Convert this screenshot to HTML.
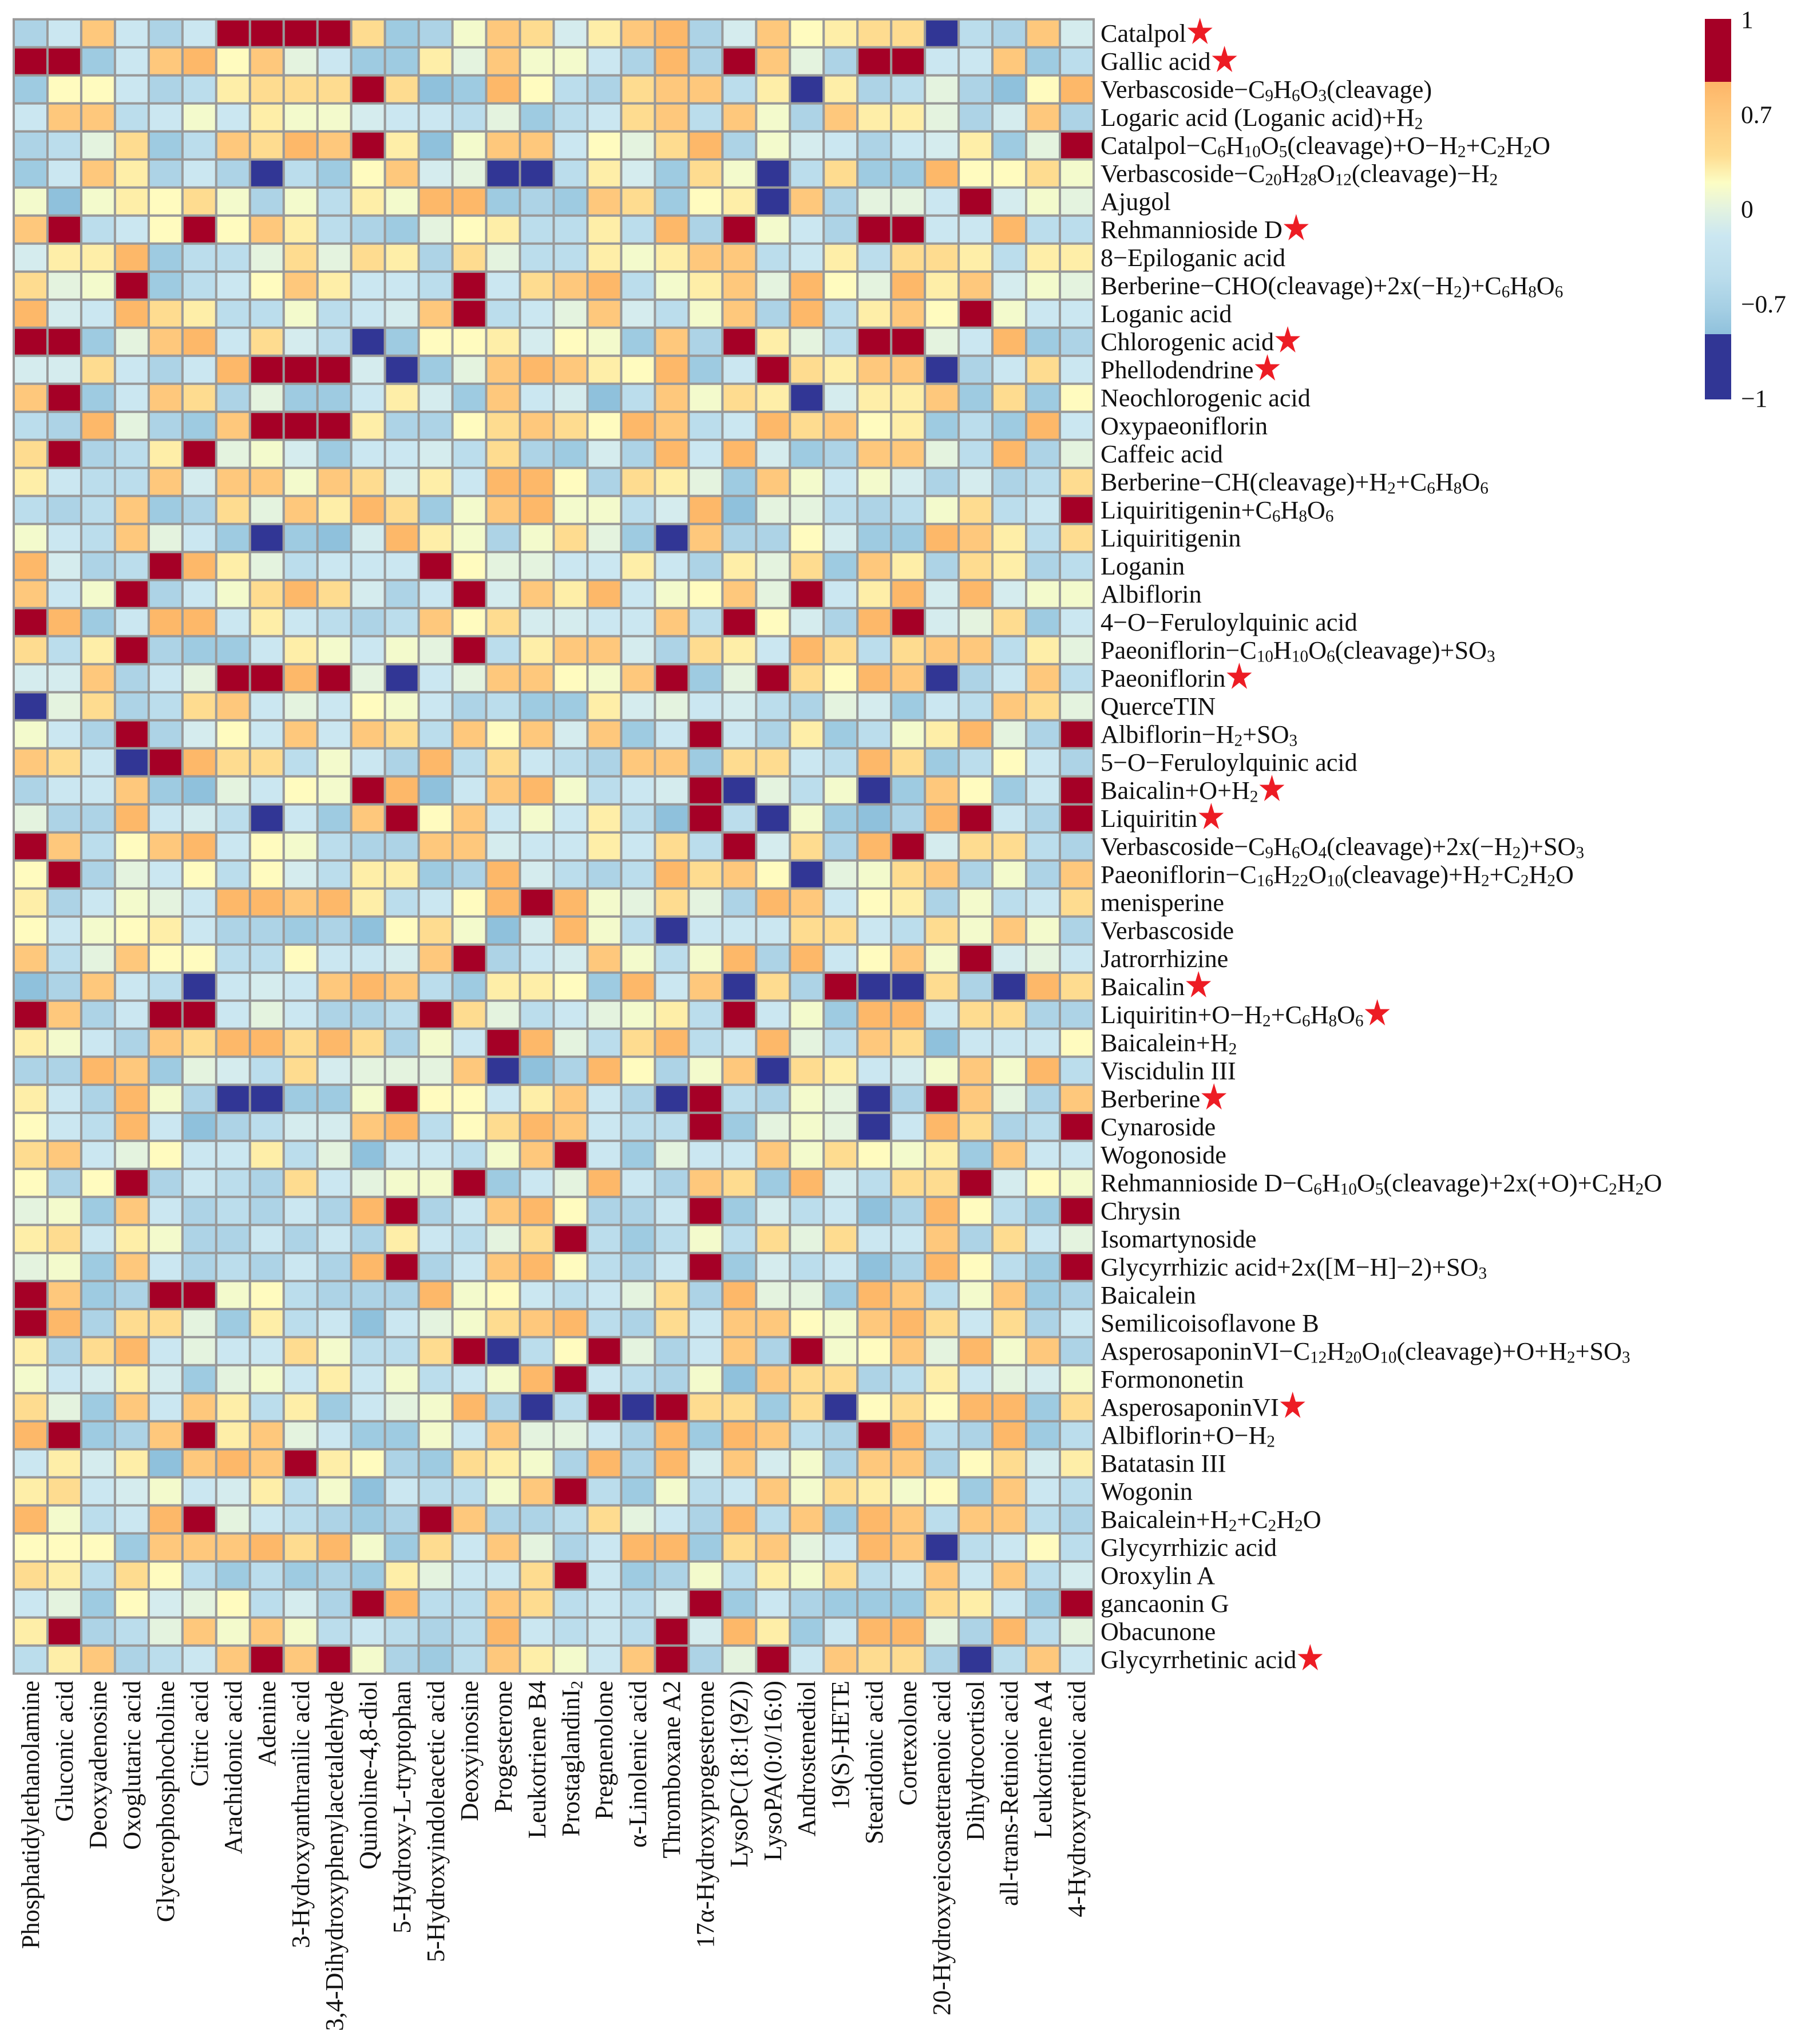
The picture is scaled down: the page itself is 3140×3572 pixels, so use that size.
<!DOCTYPE html>
<html lang="en">
<head>
<meta charset="utf-8">
<title>Correlation heatmap</title>
<style>
html,body{margin:0;padding:0;background:#fff;}
#page{position:relative;width:3140px;height:3572px;overflow:hidden;background:#fff;font-family:"Liberation Serif",serif;color:#111;}
#chart{position:absolute;left:0;top:0;}
.row-label{position:absolute;left:1923px;height:49px;line-height:49px;font-size:44.2px;white-space:nowrap;}
.col-label{position:absolute;top:2937px;height:59px;line-height:59px;font-size:44.2px;white-space:nowrap;transform-origin:0 0;transform:rotate(-90deg) translateX(-100%);}
sub{font-size:.66em;vertical-align:-.18em;line-height:0;}
.star{display:inline-block;width:44px;height:46px;margin:-30px 0 0 2px;vertical-align:-4.3px;background:#ED1C24;clip-path:polygon(50% 0%,62% 38%,100% 38%,69% 62%,81% 100%,50% 76%,19% 100%,31% 62%,0% 38%,38% 38%);}
.legend-label{position:absolute;left:3042px;font-size:43.5px;line-height:50px;height:50px;white-space:nowrap;}
</style>
</head>
<body>
<div id="page">
<svg id="chart" width="3140" height="3572" xmlns="http://www.w3.org/2000/svg">
<defs>
<linearGradient id="legendGradient" x1="0" y1="0" x2="0" y2="1">
<stop offset="0" stop-color="#FDB567"/>
<stop offset="0.13" stop-color="#FEC87C"/>
<stop offset="0.29" stop-color="#FEDC90"/>
<stop offset="0.40" stop-color="#FCFDC4"/>
<stop offset="0.50" stop-color="#E4F3DF"/>
<stop offset="0.61" stop-color="#CBE7F1"/>
<stop offset="0.77" stop-color="#BBDDEC"/>
<stop offset="0.90" stop-color="#A5CFE4"/>
<stop offset="1" stop-color="#8FC1DC"/>
</linearGradient>
</defs>
<g id="cells"></g>
<g id="legend">
<rect x="2979" y="33" width="46" height="110" fill="#A50026"/>
<rect x="2979" y="143" width="46" height="441" fill="url(#legendGradient)"/>
<rect x="2979" y="584" width="46" height="114" fill="#313695"/>
</g>
</svg>
</div>
<script>
const columnLabels=["Phosphatidylethanolamine","Gluconic acid","Deoxyadenosine","Oxoglutaric acid","Glycerophosphocholine","Citric acid","Arachidonic acid","Adenine","3-Hydroxyanthranilic acid","3,4-Dihydroxyphenylacetaldehyde","Quinoline-4,8-diol","5-Hydroxy-L-tryptophan","5-Hydroxyindoleacetic acid","Deoxyinosine","Progesterone","Leukotriene B4","ProstaglandinI<sub>2</sub>","Pregnenolone","α-Linolenic acid","Thromboxane A2","17α-Hydroxyprogesterone","LysoPC(18:1(9Z))","LysoPA(0:0/16:0)","Androstenediol","19(S)-HETE","Stearidonic acid","Cortexolone","20-Hydroxyeicosatetraenoic acid","Dihydrocortisol","all-trans-Retinoic acid","Leukotriene A4","4-Hydroxyretinoic acid"];
const rowLabels=["Catalpol","Gallic acid","Verbascoside−C<sub>9</sub>H<sub>6</sub>O<sub>3</sub>(cleavage)","Logaric acid (Loganic acid)+H<sub>2</sub>","Catalpol−C<sub>6</sub>H<sub>10</sub>O<sub>5</sub>(cleavage)+O−H<sub>2</sub>+C<sub>2</sub>H<sub>2</sub>O","Verbascoside−C<sub>20</sub>H<sub>28</sub>O<sub>12</sub>(cleavage)−H<sub>2</sub>","Ajugol","Rehmannioside D","8−Epiloganic acid","Berberine−CHO(cleavage)+2x(−H<sub>2</sub>)+C<sub>6</sub>H<sub>8</sub>O<sub>6</sub>","Loganic acid","Chlorogenic acid","Phellodendrine","Neochlorogenic acid","Oxypaeoniflorin","Caffeic acid","Berberine−CH(cleavage)+H<sub>2</sub>+C<sub>6</sub>H<sub>8</sub>O<sub>6</sub>","Liquiritigenin+C<sub>6</sub>H<sub>8</sub>O<sub>6</sub>","Liquiritigenin","Loganin","Albiflorin","4−O−Feruloylquinic acid","Paeoniflorin−C<sub>10</sub>H<sub>10</sub>O<sub>6</sub>(cleavage)+SO<sub>3</sub>","Paeoniflorin","QuerceTIN","Albiflorin−H<sub>2</sub>+SO<sub>3</sub>","5−O−Feruloylquinic acid","Baicalin+O+H<sub>2</sub>","Liquiritin","Verbascoside−C<sub>9</sub>H<sub>6</sub>O<sub>4</sub>(cleavage)+2x(−H<sub>2</sub>)+SO<sub>3</sub>","Paeoniflorin−C<sub>16</sub>H<sub>22</sub>O<sub>10</sub>(cleavage)+H<sub>2</sub>+C<sub>2</sub>H<sub>2</sub>O","menisperine","Verbascoside","Jatrorrhizine","Baicalin","Liquiritin+O−H<sub>2</sub>+C<sub>6</sub>H<sub>8</sub>O<sub>6</sub>","Baicalein+H<sub>2</sub>","Viscidulin III","Berberine","Cynaroside","Wogonoside","Rehmannioside D−C<sub>6</sub>H<sub>10</sub>O<sub>5</sub>(cleavage)+2x(+O)+C<sub>2</sub>H<sub>2</sub>O","Chrysin","Isomartynoside","Glycyrrhizic acid+2x([M−H]−2)+SO<sub>3</sub>","Baicalein","Semilicoisoflavone B","AsperosaponinVI−C<sub>12</sub>H<sub>20</sub>O<sub>10</sub>(cleavage)+O+H<sub>2</sub>+SO<sub>3</sub>","Formononetin","AsperosaponinVI","Albiflorin+O−H<sub>2</sub>","Batatasin III","Wogonin","Baicalein+H<sub>2</sub>+C<sub>2</sub>H<sub>2</sub>O","Glycyrrhizic acid","Oroxylin A","gancaonin G","Obacunone","Glycyrrhetinic acid"];
const starredRowNumbers=[1,2,8,12,13,24,28,29,35,36,39,50,59];
const legendTickLabels=["1","0.7","0","−0.7","−1"];

const row01=[-0.6,-0.2,0.7,-0.2,-0.6,-0.2,1,1,1,1,0.55,-0.7,-0.6,0.1,0.7,0.55,-0.1,0.4,0.7,0.8,-0.6,-0.1,0.7,0.2,0.4,0.55,0.55,-1,-0.4,-0.6,0.7,-0.1];
const row02=[1,1,-0.7,-0.2,0.7,0.8,0.2,0.7,0,-0.2,-0.7,-0.7,0.4,0,0.7,0.1,0.1,-0.2,-0.6,0.8,-0.6,1,0.7,0,-0.6,1,1,-0.2,-0.2,0.7,-0.7,-0.4];
const row03=[-0.7,0.2,0.2,-0.2,-0.6,-0.4,0.4,0.55,0.55,0.55,1,0.55,-0.8,-0.7,0.8,0.2,-0.4,-0.6,0.55,0.7,0.7,-0.4,0.4,-1,0.4,-0.6,-0.4,0,-0.6,-0.8,0.2,0.8];
const row04=[-0.2,0.7,0.7,-0.4,-0.2,0.1,-0.2,0.4,0.1,0.1,-0.1,-0.2,-0.2,-0.4,0,-0.7,-0.4,-0.2,0.55,0.7,-0.4,0.7,0.1,-0.6,0.7,0.4,0.4,0,-0.6,-0.1,0.7,-0.6];
const row05=[-0.6,-0.4,0,0.55,-0.7,-0.4,0.7,0.55,0.8,0.7,1,0.4,-0.8,0.1,0.7,0.7,-0.2,0.2,0,0.55,0.8,-0.6,0.1,-0.1,-0.2,-0.6,-0.2,-0.1,0.4,-0.7,0,1];
const row06=[-0.7,-0.2,0.7,0.4,-0.6,-0.2,-0.6,-1,-0.4,-0.7,0.2,0.7,-0.1,0,-1,-1,-0.4,0.4,-0.1,-0.7,0.55,0.1,-1,-0.4,0.55,-0.7,-0.7,0.8,0.2,0.2,0.55,0.1];
const row07=[0.1,-0.8,0.1,0.4,0.2,0.55,0.1,-0.6,0.1,-0.4,0.4,0.1,0.8,0.8,-0.7,-0.6,-0.7,0.7,0.55,-0.7,0.2,0.4,-1,0.7,-0.6,0,0,-0.2,1,-0.1,0.1,0];
const row08=[0.7,1,-0.4,-0.2,0.2,1,0.2,0.7,0.4,-0.4,-0.6,-0.7,0,0.2,0.4,-0.4,-0.4,0.4,-0.4,0.8,-0.6,1,0.1,-0.2,-0.6,1,1,-0.2,-0.2,0.8,-0.4,-0.4];
const row09=[-0.1,0.4,0.4,0.8,-0.7,-0.4,-0.4,0,0.55,0,0.55,0.4,-0.6,0.55,0,-0.4,-0.4,0.4,0.1,0.4,0.7,0.7,-0.4,-0.2,0.4,-0.4,0.55,0.55,0.4,-0.4,0.4,0.4];
const row10=[0.55,0,0.1,1,-0.7,-0.4,-0.2,0.2,0.7,0.4,-0.2,-0.2,-0.4,1,-0.2,0.55,0.7,0.8,-0.4,0.1,0.4,0.7,0,0.8,0.2,0,0.8,0.4,0.7,-0.1,0.1,0];
const row11=[0.8,-0.1,-0.2,0.8,0.55,0.4,-0.4,-0.4,0.1,-0.4,-0.2,-0.1,0.7,1,-0.4,-0.2,0,0.7,-0.1,-0.4,0.1,0.7,-0.6,0.8,-0.4,0.4,0.7,0.2,1,0.1,-0.2,-0.2];
const row12=[1,1,-0.7,0,0.7,0.8,-0.2,0.55,-0.1,-0.4,-1,-0.7,0.2,0.2,0.4,-0.1,0.2,0.1,-0.7,0.7,-0.6,1,0.4,0,-0.4,1,1,0,-0.2,0.8,-0.7,-0.6];
const row13=[-0.1,-0.1,0.55,-0.2,-0.6,-0.2,0.8,1,1,1,-0.1,-1,-0.7,0,0.7,0.8,0.7,0.4,0.2,0.8,-0.7,-0.2,1,0.55,0.4,0.7,0.7,-1,-0.6,-0.2,0.55,-0.2];
const row14=[0.7,1,-0.7,-0.2,0.7,0.55,-0.6,0,-0.7,-0.7,-0.2,0.4,-0.1,-0.7,0.7,-0.2,-0.1,-0.8,-0.4,0.7,0.1,0.55,0.4,-1,-0.1,0.4,0.4,0.7,-0.7,0.55,-0.7,0.2];
const row15=[-0.4,-0.6,0.8,0,-0.6,-0.7,0.7,1,1,1,0.4,-0.6,-0.6,0.2,0.55,0.7,0.55,0.2,0.8,0.7,-0.4,-0.2,0.8,0.55,0.7,0.2,0.4,-0.7,-0.4,-0.7,0.8,-0.2];
const row16=[0.55,1,-0.6,-0.4,0.4,1,0,0.1,-0.1,-0.7,-0.2,-0.2,-0.1,-0.4,0.55,-0.6,-0.7,-0.1,-0.6,0.8,-0.2,0.8,-0.1,-0.7,-0.6,0.7,0.7,0,-0.4,0.8,-0.6,0];
const row17=[0.4,-0.2,-0.4,-0.4,0.7,-0.1,0.7,0.7,0.1,0.7,0.55,-0.1,0.4,-0.2,0.8,0.8,0.2,-0.6,0.55,0.4,0,-0.7,0.7,0.1,-0.2,0.1,-0.1,-0.6,-0.1,-0.6,-0.4,0.55];
const row18=[-0.4,-0.6,-0.4,0.7,-0.7,-0.6,0.55,0,0.7,0.4,0.8,0.55,-0.7,0.1,0.7,0.8,0.1,0.1,-0.4,-0.1,0.8,-0.8,0,0,-0.4,-0.6,-0.4,0.1,0.55,-0.4,-0.2,1];
const row19=[0.1,-0.2,-0.4,0.7,0,-0.2,-0.7,-1,-0.7,-0.8,-0.1,0.8,0.4,0.1,-0.6,0.1,0.55,0,-0.7,-1,0.7,-0.6,-0.6,0.2,-0.1,-0.7,-0.7,0.8,0.7,0.4,-0.4,0.55];
const row20=[0.8,-0.1,-0.6,-0.4,1,0.8,0.4,0,-0.4,-0.2,-0.2,-0.2,1,0.2,0,0,-0.2,-0.2,0.4,-0.2,-0.6,0.4,0,0.55,-0.7,0.7,0.4,-0.6,0.55,0.4,-0.6,-0.4];
const row21=[0.7,-0.2,0.1,1,-0.6,-0.2,0.1,0.55,0.8,0.55,-0.1,-0.6,-0.2,1,-0.1,0.7,0.4,0.8,-0.2,0.1,0.2,0.7,0,1,-0.2,0.4,0.8,-0.1,0.8,-0.1,0.1,0.1];
const row22=[1,0.8,-0.7,-0.2,0.8,0.8,-0.2,0.4,-0.2,-0.4,-0.6,-0.4,0.7,0.2,0.55,-0.1,-0.1,-0.2,-0.2,0.7,-0.4,1,0.2,-0.1,-0.6,0.8,1,-0.1,0,0.55,-0.7,-0.2];
const row23=[0.55,-0.4,0.4,1,-0.6,-0.7,-0.7,-0.2,0.4,0.1,-0.2,0.1,0,1,-0.4,0.4,0.7,0.7,-0.1,-0.6,0.55,0.4,-0.2,0.8,0.55,-0.4,0.55,0.7,0.7,-0.4,0.4,0];
const row24=[-0.1,-0.1,0.7,-0.6,-0.2,0,1,1,0.8,1,0,-1,-0.2,0,0.7,0.7,0.2,0.1,0.7,1,-0.7,0,1,0.55,0.2,0.8,0.7,-1,-0.6,-0.2,0.7,-0.4];
const row25=[-1,0,0.55,-0.6,-0.4,0.55,0.7,-0.2,0,-0.2,0.2,0.1,-0.2,-0.6,-0.4,-0.7,-0.7,0.4,-0.1,0,-0.2,-0.1,-0.4,-0.6,0,-0.1,-0.7,-0.2,-0.4,0.7,0.55,0];
const row26=[0.1,-0.2,-0.6,1,-0.6,-0.1,0.2,-0.2,0.7,-0.2,0.7,0.55,-0.4,0.7,0.2,0.7,-0.1,0.7,-0.7,-0.2,1,-0.2,-0.6,0.4,-0.7,-0.4,0.1,0.4,0.8,0,-0.6,1];
const row27=[0.7,0.55,-0.2,-1,1,0.8,0.55,0.55,-0.4,0.1,-0.2,-0.6,0.8,-0.4,0.55,-0.2,-0.4,-0.6,0.7,0.7,-0.7,0.55,0.55,-0.2,-0.4,0.8,0.55,-0.7,-0.4,0.2,-0.2,-0.6];
const row28=[-0.6,-0.2,-0.2,0.7,-0.7,-0.8,0,-0.2,0.2,0.1,1,0.8,-0.8,-0.2,0.7,0.8,0.1,-0.4,-0.2,-0.1,1,-1,0,-0.4,0.1,-1,-0.7,0.7,0.2,-0.7,-0.2,1];
const row29=[0,-0.6,-0.6,0.8,-0.2,-0.1,-0.4,-1,-0.2,-0.7,0.7,1,0.2,0.7,-0.2,0.1,-0.2,0.4,-0.4,-0.8,1,-0.4,-1,0.1,-0.7,-0.8,-0.6,0.8,1,-0.2,-0.6,1];
const row30=[1,0.7,-0.4,0.2,0.7,0.8,-0.2,0.2,0.1,-0.4,-0.6,-0.6,0.7,0.7,-0.1,-0.2,-0.2,0.4,-0.2,0.55,-0.4,1,-0.1,0.55,-0.6,0.8,1,-0.1,0.55,0.55,-0.4,-0.6];
const row31=[0.2,1,-0.6,0,-0.2,0.2,-0.4,0.2,-0.1,-0.4,0.4,0.4,-0.7,-0.6,0.8,-0.1,-0.4,-0.6,-0.4,0.8,0.55,0.7,0.2,-1,0,0.1,0.55,0.7,-0.6,0.1,-0.6,0.7];
const row32=[0.4,-0.6,-0.2,0.1,0,-0.2,0.8,0.8,0.7,0.8,0.4,-0.4,-0.2,0.2,0.8,1,0.8,0.1,0,0.55,0,-0.6,0.8,0.7,-0.2,0.2,0.4,-0.6,0.1,-0.4,-0.2,0.55];
const row33=[0.2,-0.2,0.1,0.2,0.4,-0.2,-0.6,-0.6,-0.7,-0.6,-0.8,0.2,0.55,0.1,-0.8,-0.1,0.8,0.1,-0.4,-1,-0.2,-0.2,-0.2,0.55,0.55,-0.2,-0.4,0.55,0.1,0.7,0.1,-0.6];
const row34=[0.7,-0.4,0,0.7,0.2,0.2,-0.4,-0.4,0.2,-0.2,-0.2,-0.1,0.7,1,-0.6,-0.2,-0.1,0.7,0.1,-0.4,0.1,0.8,-0.6,0.8,-0.2,0.2,0.7,0.1,1,-0.1,0,-0.2];
const row35=[-0.8,-0.6,0.7,-0.2,-0.4,-1,-0.2,-0.1,-0.2,0.7,0.8,0.7,-0.4,-0.7,0.4,0.4,0.2,-0.7,0.8,-0.2,0.7,-1,0.55,-0.6,1,-1,-1,0.55,-0.6,-1,0.8,0.55];
const row36=[1,0.7,-0.6,-0.2,1,1,-0.2,0,-0.2,-0.6,-0.6,-0.4,1,0.55,0,-0.4,-0.2,0,0.1,0.4,-0.4,1,-0.2,0.1,-0.7,0.8,0.8,-0.2,0.55,0.55,-0.6,-0.6];
const row37=[0.4,0.1,-0.2,-0.6,0.7,0.55,0.8,0.8,0.55,0.8,0.55,-0.6,0.1,-0.2,1,0.8,0,-0.4,0.55,0.8,-0.4,-0.2,0.8,0,-0.4,0.7,0.55,-0.8,-0.2,-0.2,-0.2,0.2];
const row38=[-0.6,-0.6,0.8,0.7,-0.7,0,-0.1,-0.4,0.55,-0.1,0,0,0,0.7,-1,-0.8,-0.6,0.8,0.2,-0.6,0.1,0.7,-1,0.55,0.4,-0.2,-0.1,0.1,0.7,0.1,0.8,-0.4];
const row39=[0.4,-0.2,-0.6,0.8,0.1,-0.6,-1,-1,-0.7,-0.7,0.1,1,0.2,0.2,-0.2,0.4,0.7,-0.2,-0.6,-1,1,-0.4,-0.6,0.1,0,-1,-0.6,1,0.7,0,-0.6,0.7];
const row40=[0.2,-0.2,-0.4,0.8,-0.2,-0.8,-0.6,-0.4,-0.1,-0.1,0.7,0.8,-0.4,0.2,0.55,0.8,0.7,-0.2,-0.4,-0.4,1,-0.7,0,0.1,0,-1,-0.2,0.8,0.55,-0.6,-0.4,1];
const row41=[0.55,0.7,-0.2,0,0.2,-0.2,-0.2,0.4,-0.4,0,-0.8,-0.2,-0.2,-0.4,0.1,0.7,1,-0.2,-0.7,0,-0.2,-0.2,0.7,0.1,0.55,0.2,0.1,0.4,-0.7,0.7,-0.2,-0.2];
const row42=[0.2,-0.6,0.2,1,-0.6,-0.2,-0.4,-0.6,0.55,-0.2,0,0.1,0.1,1,-0.7,-0.2,0,0.8,-0.2,-0.6,0.7,0.55,-0.7,0.8,-0.1,-0.4,0.55,0.55,1,-0.1,0.2,0.1];
const row43=[0,0.1,-0.7,0.7,-0.2,-0.6,-0.4,-0.6,-0.2,-0.6,0.8,1,-0.6,-0.2,0.7,0.8,0.2,-0.6,-0.6,-0.2,1,-0.7,-0.1,-0.4,-0.2,-0.8,-0.6,0.8,0.2,-0.4,-0.7,1];
const row44=[0.4,0.55,-0.2,0.4,0.1,-0.6,-0.6,-0.2,-0.6,-0.2,-0.6,0.4,-0.2,-0.4,0,0.55,1,-0.4,-0.7,-0.4,0.1,-0.4,0.55,0,0.55,-0.2,-0.2,0.7,-0.6,0.55,-0.2,0];
const row45=[0,0.1,-0.7,0.7,-0.2,-0.6,-0.4,-0.6,-0.2,-0.6,0.8,1,-0.6,-0.2,0.7,0.8,0.2,-0.4,-0.6,-0.2,1,-0.7,-0.1,-0.4,-0.2,-0.8,-0.6,0.8,0.2,-0.4,-0.7,1];
const row46=[1,0.7,-0.7,-0.6,1,1,0.1,0.2,-0.4,-0.6,-0.6,-0.6,0.8,0.1,0.2,-0.2,-0.4,-0.2,0,0.55,-0.6,0.8,0,0,-0.7,0.8,0.7,-0.4,0.1,0.7,-0.7,-0.6];
const row47=[1,0.8,-0.6,0.55,0.55,0,-0.7,0.4,-0.4,-0.2,-0.8,-0.2,0,0.1,0.55,0.7,0.8,-0.4,-0.6,0.55,-0.2,0.7,0.7,0.2,0.1,0.7,0.8,0.55,-0.2,0.55,-0.6,-0.2];
const row48=[0.4,-0.6,0.55,0.8,-0.2,0,-0.2,-0.2,0.55,0.1,-0.4,-0.4,0.55,1,-1,-0.4,0.2,1,0,-0.6,-0.2,0.7,-0.6,1,0.1,0.2,0.7,0,0.8,0.1,0.7,-0.6];
const row49=[0.1,-0.2,-0.1,0.4,-0.1,-0.7,0,0.1,-0.2,0.4,-0.2,0.1,-0.4,-0.2,0.1,0.8,1,-0.2,-0.4,-0.6,0.1,-0.8,0.7,0.55,0.55,-0.6,-0.4,0.4,-0.2,0,-0.1,0.1];
const row50=[0.55,0,-0.7,0.7,-0.2,0.7,0.4,-0.4,0.4,-0.7,-0.2,0,0.1,0.8,-0.6,-1,-0.4,1,-1,1,0.55,0.55,-0.7,0.55,-1,0.2,0.55,0.2,0.8,0.8,-0.7,0.55];
const row51=[0.8,1,-0.7,-0.6,0.7,1,0.4,0.7,0,-0.2,-0.7,-0.7,0.1,-0.2,0.7,0,0,-0.2,-0.6,0.8,-0.7,0.8,0.7,-0.4,-0.6,1,0.8,-0.4,-0.6,0.8,-0.7,-0.4];
const row52=[-0.2,0.4,-0.1,0.4,-0.8,0.7,0.8,0.7,1,0.4,0.2,-0.6,-0.7,0.55,0.4,0.1,-0.6,0.8,-0.6,0.8,-0.1,0.7,-0.1,0.1,-0.6,0.7,0.7,-0.6,0.2,0.55,-0.1,0.4];
const row53=[0.4,0.55,-0.2,-0.1,0.1,-0.2,-0.1,0.4,-0.4,0.1,-0.8,-0.2,-0.4,-0.4,0.1,0.7,1,-0.4,-0.7,0.1,-0.4,-0.2,0.7,0.1,0.55,0.4,0.1,0.2,-0.7,0.7,-0.2,-0.4];
const row54=[0.8,0.1,-0.4,-0.2,0.8,1,0,-0.2,-0.4,-0.6,-0.7,-0.6,1,0.7,-0.6,-0.6,-0.4,0.55,0,-0.2,-0.6,0.8,-0.4,0.7,-0.7,0.8,0.7,-0.4,0.7,0.7,-0.4,-0.6];
const row55=[0.2,0.2,0.2,-0.7,0.7,0.7,0.7,0.8,0.55,0.8,0.1,-0.7,0.55,-0.2,0.7,0,-0.6,-0.2,0.8,0.8,-0.7,0.55,0.7,0,-0.2,0.8,0.7,-1,-0.4,-0.2,0.2,-0.4];
const row56=[0.55,0.4,-0.4,0.55,0.2,-0.4,-0.7,-0.4,-0.7,-0.6,-0.7,0.4,0,-0.2,-0.2,0.55,1,-0.2,-0.7,-0.6,0.1,-0.4,0.4,0.1,0.55,-0.4,-0.2,0.7,-0.2,0.7,-0.4,-0.1];
const row57=[-0.2,0,-0.7,0.2,-0.1,0,0.2,-0.4,-0.1,-0.6,1,0.8,-0.4,-0.4,0.7,0.55,-0.4,-0.2,-0.4,-0.1,1,-0.7,-0.2,-0.6,-0.7,-0.7,-0.7,0.55,0.4,-0.2,-0.7,1];
const row58=[0.4,1,-0.6,-0.4,0,0.7,0.1,0.7,0.1,-0.4,-0.2,-0.4,-0.6,-0.4,0.8,-0.2,-0.4,-0.2,-0.4,1,-0.1,0.8,0.4,-0.7,-0.2,0.8,0.8,0,-0.6,0.8,-0.4,0];
const row59=[-0.4,0.4,0.7,-0.6,-0.4,-0.2,0.7,1,0.7,1,0.1,-0.6,-0.7,-0.4,0.7,0.4,0.1,-0.2,0.7,1,-0.6,0,1,-0.2,0.7,0.55,0.55,-0.6,-1,-0.4,0.7,-0.2];
const heatmapRows=[row01,row02,row03,row04,row05,row06,row07,row08,row09,row10,row11,row12,row13,row14,row15,row16,row17,row18,row19,row20,row21,row22,row23,row24,row25,row26,row27,row28,row29,row30,row31,row32,row33,row34,row35,row36,row37,row38,row39,row40,row41,row42,row43,row44,row45,row46,row47,row48,row49,row50,row51,row52,row53,row54,row55,row56,row57,row58,row59];

const colorDomain=[-0.8,-0.7,-0.6,-0.4,-0.2,-0.1,0,0.1,0.2,0.4,0.55,0.7,0.8];
const colorRange=[[143,193,220],[158,203,225],[173,211,230],[187,221,236],[203,231,241],[213,236,238],[228,243,223],[243,250,204],[255,251,191],[254,238,168],[254,220,144],[254,200,124],[253,184,105]];

const gridLeft=24,gridTop=33.75,cellWidth=58.97,cellHeight=49;
function xScale(c){return gridLeft+c*cellWidth;}
function yScale(r){return gridTop+r*cellHeight;}
function colorScale(v){
  if(v>=0.9)return 'rgb(165,0,38)';
  if(v<=-0.9)return 'rgb(49,54,149)';
  const clamped=Math.max(colorDomain[0],Math.min(colorDomain[colorDomain.length-1],v));
  let i=0;
  while(i<colorDomain.length-2&&clamped>colorDomain[i+1])i++;
  const t=(clamped-colorDomain[i])/(colorDomain[i+1]-colorDomain[i]);
  const a=colorRange[i],b=colorRange[i+1];
  return 'rgb('+a.map(function(x,k){return Math.round(x+(b[k]-x)*t);}).join(',')+')';
}

const SVG_NS='http://www.w3.org/2000/svg';
const page=document.getElementById('page');
const cellsGroup=document.getElementById('cells');

heatmapRows.forEach(function(values,r){
  values.forEach(function(v,c){
    const rect=document.createElementNS(SVG_NS,'rect');
    rect.setAttribute('x',xScale(c));
    rect.setAttribute('y',yScale(r));
    rect.setAttribute('width',cellWidth);
    rect.setAttribute('height',cellHeight);
    rect.setAttribute('fill',colorScale(v));
    rect.setAttribute('stroke','#999999');
    rect.setAttribute('stroke-width','4');
    
    
    cellsGroup.appendChild(rect);
  });
});

rowLabels.forEach(function(label,r){
  const div=document.createElement('div');
  div.className='row-label';
  div.style.top=yScale(r)+'px';
  div.innerHTML=label;
  
  
  if(starredRowNumbers.indexOf(r+1)>=0){
    const star=document.createElement('span');
    star.className='star';
    
    
    div.appendChild(star);
  }
  page.appendChild(div);
});

columnLabels.forEach(function(label,c){
  const div=document.createElement('div');
  div.className='col-label';
  div.style.left=xScale(c)+'px';
  div.innerHTML=label;
  
  
  page.appendChild(div);
});

legendTickLabels.forEach(function(label,i){
  const div=document.createElement('div');
  div.className='legend-label';
  div.style.top=(35+i*165.5-25)+'px';
  div.textContent=label;
  
  
  page.appendChild(div);
});
</script>
</body>
</html>
